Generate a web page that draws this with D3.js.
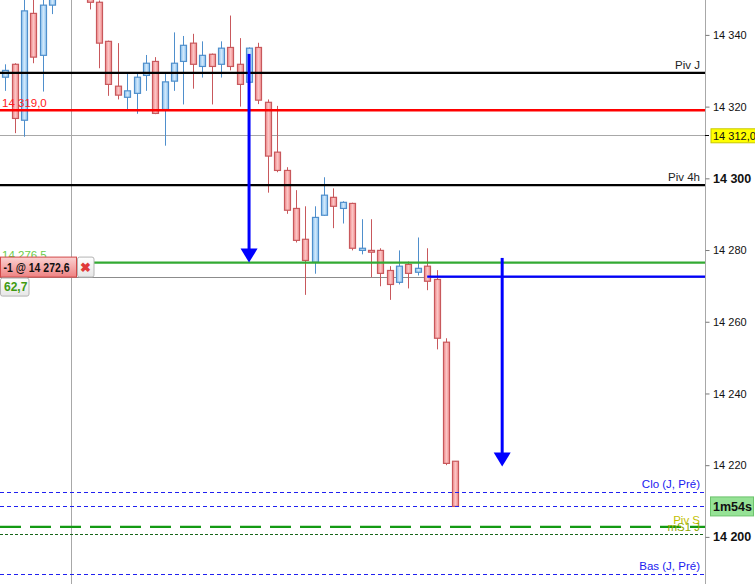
<!DOCTYPE html>
<html>
<head>
<meta charset="utf-8">
<script src="https://cdn.jsdelivr.net/npm/d3@7"></script>
<style>
  body { margin: 0; background: #fff; }
  svg { display: block; font-family: "Liberation Sans", Arial, sans-serif; }
</style>
</head>
<body>
<svg id="chart"></svg>
<script>
// bougies 1 minute (les bougies 6-8 sont hors du cadre, au-dessus)
const opens  = [14328.2, 14331.8, 14316.2, 14346.0, 14334.3, 14348.3, 14356.0, 14361.0, 14357.0, 14354.0,
                14349.1, 14338.2, 14325.7, 14322.6, 14323.7, 14328.7, 14332.6, 14319.2, 14327.1, 14332.6,
                14337.7, 14331.2, 14334.6, 14331.8, 14336.5, 14331.8, 14326.8, 14336.5, 14321.2, 14307.3,
                14302.2, 14291.6, 14283.0, 14276.6, 14289.7, 14294.7, 14291.6, 14293.0, 14279.9, 14279.9,
                14279.9, 14274.3, 14271.0, 14276.0, 14273.8, 14275.5, 14271.8, 14254.3, 14221.1];
const highs  = [14331.8, 14332.1, 14352.0, 14351.0, 14353.0, 14360.0, 14364.0, 14366.0, 14362.0, 14355.0,
                14349.6, 14338.4, 14337.7, 14329.3, 14329.3, 14334.4, 14333.8, 14329.3, 14340.7, 14339.7,
                14340.3, 14338.2, 14334.8, 14338.2, 14345.4, 14339.1, 14336.5, 14337.8, 14322.0, 14320.2,
                14303.1, 14296.7, 14292.2, 14292.2, 14300.3, 14297.2, 14293.6, 14293.2, 14288.6, 14288.6,
                14280.5, 14275.5, 14279.9, 14276.8, 14283.5, 14280.5, 14274.4, 14255.4, 14221.1];
const lows   = [14324.4, 14312.6, 14311.6, 14332.1, 14324.2, 14345.8, 14353.0, 14354.0, 14351.0, 14347.1,
                14330.7, 14323.0, 14322.0, 14319.2, 14318.0, 14324.4, 14317.9, 14309.1, 14324.4, 14320.6,
                14325.0, 14328.1, 14320.6, 14328.1, 14330.1, 14320.0, 14326.8, 14320.7, 14296.0, 14301.7,
                14290.1, 14282.1, 14267.5, 14273.4, 14289.5, 14286.1, 14287.4, 14279.9, 14278.8, 14272.4,
                14269.9, 14266.1, 14270.4, 14269.3, 14272.9, 14268.8, 14252.3, 14220.0, 14208.5];
const closes = [14330.1, 14316.7, 14346.7, 14333.8, 14348.3, 14356.0, 14361.0, 14357.0, 14353.0, 14349.1,
                14337.7, 14326.2, 14323.2, 14324.4, 14328.2, 14332.1, 14318.1, 14326.9, 14332.1, 14337.1,
                14331.8, 14334.3, 14331.2, 14336.3, 14331.2, 14326.2, 14336.3, 14321.8, 14306.2, 14302.2,
                14291.1, 14282.7, 14277.1, 14289.1, 14295.3, 14292.2, 14293.3, 14280.5, 14280.5, 14279.4,
                14273.5, 14270.4, 14275.5, 14273.5, 14274.9, 14271.3, 14255.4, 14220.5, 14208.5];

// niveaux
const pivotPrices = [14329.4, 14298.1];
const pivotNames = ["Piv J", "Piv 4h"];
const prevDayPrices = [14212.5, 14189.7];
const prevDayNames = ["Clo (J, Pré)", "Bas (J, Pré)"];
const alertPrice = 14319.0;
const markerPrice = 14312.0;
const targetPrice = 14276.5;
const entryPrice = 14272.6;
const pivSPrice = 14202.8;
const ms1Price = 14200.9;
const lastPrice = closes[closes.length - 1];
const pnl = "62,7";
const timer = "1m54s";

// flèches : index de bougie, prix haut, prix de la pointe
const arrowIndex = [26, 53];
const arrowFrom = [14334.7, 14277.8];
const arrowTo = [14276.5, 14219.6];

const tickValues = [14200, 14220, 14240, 14260, 14280, 14300, 14320, 14340];
const boldTicks = [14200, 14300];

const width = 755;
const height = 584;
const axisX = 705;

const fmt = v => d3.format(",")(v).replace(/,/g, " ");
const fmt1 = v => d3.format(",.1f")(v).replace(/,/g, " ").replace(".", ",");

const y = d3.scaleLinear().domain([14200, 14340]).range([536.9, 34.9]);
const x = d3.scaleLinear().domain([0, 48]).range([5.3, 455.3]);
const py = p => Math.round(y(p)) + 0.5;   // lignes nettes

const svg = d3.select("#chart")
    .attr("width", width)
    .attr("height", height)
    .attr("viewBox", [0, 0, width, height]);

const defs = svg.append("defs");
function grad(id, stops, vertical) {
    const g = defs.append("linearGradient").attr("id", id);
    if (vertical) g.attr("x2", 0).attr("y2", 1);
    stops.forEach(([o, c]) => g.append("stop").attr("offset", o).attr("stop-color", c));
}
grad("upG", [["0", "#8fc4ee"], ["0.5", "#cfe7fb"], ["1", "#8fc4ee"]]);
grad("dnG", [["0", "#f08c8c"], ["0.5", "#fbc4c4"], ["1", "#f08c8c"]]);
grad("boxG", [["0", "#fbd2d2"], ["1", "#ee8282"]], true);
grad("greyG", [["0", "#ffffff"], ["1", "#e6e6e6"]], true);

// lignes grises (derrière les bougies)
svg.append("line")
    .attr("x1", Math.round(x(7)) + 0.5).attr("x2", Math.round(x(7)) + 0.5)
    .attr("y1", 0).attr("y2", height)
    .attr("stroke", "#a8a8a8");

[markerPrice, entryPrice].forEach((p, i) => {
    svg.append("line")
        .attr("x1", 0).attr("x2", axisX)
        .attr("y1", py(p)).attr("y2", py(p))
        .attr("stroke", i === 0 ? "#a8a8a8" : "#8c8c8c");
});

// bougies
const candles = svg.append("g")
    .selectAll("g")
    .data(d3.range(opens.length))
    .join("g");

candles.append("line")
    .attr("x1", i => Math.round(x(i)) + 0.5)
    .attr("x2", i => Math.round(x(i)) + 0.5)
    .attr("y1", i => y(highs[i]))
    .attr("y2", i => y(lows[i]))
    .attr("stroke", i => closes[i] >= opens[i] ? "#4f8fcc" : "#c8585c");

candles.append("rect")
    .attr("x", i => Math.round(x(i)) - 2.5)
    .attr("width", 6)
    .attr("y", i => y(Math.max(opens[i], closes[i])))
    .attr("height", i => Math.max(1, Math.abs(y(opens[i]) - y(closes[i]))))
    .attr("fill", i => closes[i] >= opens[i] ? "url(#upG)" : "url(#dnG)")
    .attr("stroke", i => closes[i] >= opens[i] ? "#4f8fcc" : "#c8585c")
    .attr("stroke-width", 1.2);

// niveaux colorés
function level(p, color, w, dash, x0 = 0) {
    return svg.append("line")
        .attr("x1", x0).attr("x2", axisX)
        .attr("y1", y(p)).attr("y2", y(p))
        .attr("stroke", color)
        .attr("stroke-width", w)
        .attr("stroke-dasharray", dash);
}

pivotPrices.forEach((p, i) => {
    level(p, "#000", 2.4, null);
    svg.append("text")
        .attr("x", axisX - 5).attr("y", y(p) - 4)
        .attr("text-anchor", "end")
        .attr("font-size", 11.5).attr("fill", "#222")
        .text(pivotNames[i]);
});
level(alertPrice, "#ff0000", 2.4, null);
level(targetPrice, "#33aa33", 2.4, null);
level(entryPrice, "#0000ff", 2.4, null, x(45));

prevDayPrices.forEach((p, i) => {
    svg.append("line")
        .attr("x1", 0).attr("x2", axisX)
        .attr("y1", py(p)).attr("y2", py(p))
        .attr("stroke", "#2020f0")
        .attr("stroke-dasharray", "4,3");
    svg.append("text")
        .attr("x", axisX - 5).attr("y", y(p) - 4)
        .attr("text-anchor", "end")
        .attr("font-size", 11.5).attr("fill", "#2020f0")
        .text(prevDayNames[i]);
});
svg.append("line")
    .attr("x1", 0).attr("x2", axisX)
    .attr("y1", py(lastPrice)).attr("y2", py(lastPrice))
    .attr("stroke", "#2020f0")
    .attr("stroke-dasharray", "4,3");

svg.append("line")
    .attr("x1", 0).attr("x2", axisX)
    .attr("y1", py(ms1Price)).attr("y2", py(ms1Price))
    .attr("stroke", "#17661a")
    .attr("stroke-dasharray", "3,2");
level(pivSPrice, "#139a13", 2.4, "21,9");

// Piv S et mS1 J se chevauchent aussi dans l'original
svg.append("text")
    .attr("x", axisX - 5).attr("y", y(pivSPrice) - 3)
    .attr("text-anchor", "end")
    .attr("font-size", 11.5).attr("fill", "#c2c000")
    .text("Piv S");
svg.append("text")
    .attr("x", axisX - 5).attr("y", y(ms1Price) - 3)
    .attr("text-anchor", "end")
    .attr("font-size", 11.5).attr("fill", "#8faa00")
    .text("mS1 J");

// flèches bleues
arrowIndex.forEach((idx, i) => {
    const ax = x(idx);
    const tip = y(arrowTo[i]);
    svg.append("line")
        .attr("x1", ax).attr("x2", ax)
        .attr("y1", y(arrowFrom[i])).attr("y2", tip - 10)
        .attr("stroke", "#0000ff")
        .attr("stroke-width", 3);
    svg.append("path")
        .attr("d", `M${ax - 8.5},${tip - 14}L${ax + 8.5},${tip - 14}L${ax},${tip}Z`)
        .attr("fill", "#0000ff");
});

// libellés à gauche
svg.append("text")
    .attr("x", 2).attr("y", y(alertPrice) - 3.5)
    .attr("font-size", 11.5).attr("fill", "#ff2020")
    .text(fmt1(alertPrice));

svg.append("text")
    .attr("x", 2).attr("y", y(targetPrice) - 3.5)
    .attr("font-size", 11.5).attr("fill", "#6ccc4c")
    .text(fmt1(targetPrice));

const boxTop = y(targetPrice) - 5.5;
svg.append("rect")
    .attr("x", 0.5).attr("y", boxTop)
    .attr("width", 76).attr("height", 20)
    .attr("fill", "url(#boxG)")
    .attr("stroke", "#d24848");
svg.append("text")
    .attr("x", 3.5).attr("y", boxTop + 14.5)
    .attr("font-size", 12).attr("font-weight", "bold").attr("fill", "#111")
    .attr("textLength", 66).attr("lengthAdjust", "spacingAndGlyphs")
    .text(`-1 @ ${fmt1(entryPrice)}`);

svg.append("rect")
    .attr("x", 77.5).attr("y", boxTop)
    .attr("width", 16.5).attr("height", 20)
    .attr("rx", 2)
    .attr("fill", "url(#greyG)")
    .attr("stroke", "#b4b4b4");
svg.append("text")
    .attr("x", 85.8).attr("y", boxTop + 14.5)
    .attr("text-anchor", "middle")
    .attr("font-size", 13).attr("font-weight", "bold").attr("fill", "#e03a3a")
    .text("✖");

svg.append("rect")
    .attr("x", 0.5).attr("y", boxTop + 21)
    .attr("width", 28.5).attr("height", 18)
    .attr("rx", 2)
    .attr("fill", "url(#greyG)")
    .attr("stroke", "#b4b4b4");
svg.append("text")
    .attr("x", 4).attr("y", boxTop + 34)
    .attr("font-size", 12).attr("font-weight", "bold").attr("fill", "#3f9a10")
    .text(pnl);

// axe des prix
svg.append("line")
    .attr("x1", axisX + 0.5).attr("x2", axisX + 0.5)
    .attr("y1", 0).attr("y2", height)
    .attr("stroke", "#a8a8a8");

svg.append("g")
    .attr("transform", `translate(${axisX + 0.5},0)`)
    .call(d3.axisRight(y).tickValues(tickValues).tickSize(4).tickPadding(3.5).tickFormat(fmt))
    .call(g => g.select(".domain").remove())
    .call(g => g.selectAll(".tick line").attr("stroke", "#777"))
    .call(g => g.selectAll(".tick text")
        .attr("fill", "#111")
        .attr("font-family", "Liberation Sans, Arial, sans-serif")
        .attr("font-size", d => boldTicks.includes(d) ? 12.5 : 11)
        .attr("font-weight", d => boldTicks.includes(d) ? "bold" : null));

// étiquettes sur l'axe
svg.append("line")
    .attr("x1", axisX).attr("x2", axisX + 4)
    .attr("y1", py(markerPrice)).attr("y2", py(markerPrice))
    .attr("stroke", "#000");
svg.append("rect")
    .attr("x", axisX + 6).attr("y", y(markerPrice) - 6.5)
    .attr("width", 50).attr("height", 14)
    .attr("fill", "#ffff00")
    .attr("stroke", "#c8c800");
svg.append("text")
    .attr("x", axisX + 8).attr("y", y(markerPrice) + 4.5)
    .attr("font-size", 11).attr("fill", "#111")
    .text(fmt1(markerPrice));

svg.append("rect")
    .attr("x", axisX + 5.5).attr("y", y(lastPrice) - 9.5)
    .attr("width", 43).attr("height", 19)
    .attr("fill", "#96e296")
    .attr("stroke", "#6cc46c");
svg.append("text")
    .attr("x", axisX + 8).attr("y", y(lastPrice) + 4.5)
    .attr("font-size", 12.5).attr("font-weight", "bold").attr("fill", "#111")
    .text(timer);
</script>
</body>
</html>
